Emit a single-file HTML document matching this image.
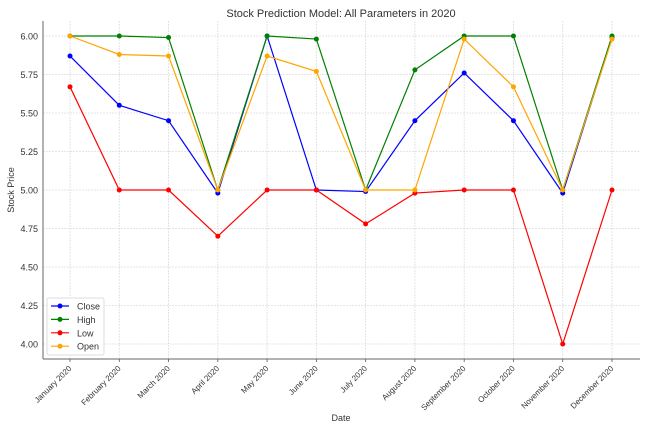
<!DOCTYPE html>
<html><head><meta charset="utf-8"><style>
body{margin:0;background:#fff}
svg{display:block;font-family:"Liberation Sans","DejaVu Sans",sans-serif}
</style></head><body>
<svg id="c" width="657" height="433"></svg>
<script>
const categories=["January 2020","February 2020","March 2020","April 2020","May 2020","June 2020","July 2020","August 2020","September 2020","October 2020","November 2020","December 2020"];
const closeVals=[5.87,5.55,5.45,4.98,6.00,5.00,4.99,5.45,5.76,5.45,4.98,5.99];
const highVals=[6.00,6.00,5.99,5.00,6.00,5.98,5.00,5.78,6.00,6.00,5.00,6.00];
const lowVals=[5.67,5.00,5.00,4.70,5.00,5.00,4.78,4.98,5.00,5.00,4.00,5.00];
const openVals=[6.00,5.88,5.87,5.00,5.87,5.77,5.00,5.00,5.98,5.67,5.00,5.98];
const yTicks=[4.00,4.25,4.50,4.75,5.00,5.25,5.50,5.75,6.00];
const seriesNames=["Close","High","Low","Open"];
const NS="http://www.w3.org/2000/svg";
const svg=document.getElementById('c');
function mk(t,a,p){const e=document.createElementNS(NS,t);for(const k in a)e.setAttribute(k,a[k]);(p||svg).appendChild(e);return e;}
const x=i=>70+i*(612-70)/11;
const y=v=>344-(v-4)*(344-36)/2;
const L=43,R=640,T=21,B=359;
// title
let t=mk('text',{x:341,y:17,'text-anchor':'middle','font-size':11,fill:'#333'});t.textContent="Stock Prediction Model: All Parameters in 2020";


// grid + ticks
yTicks.forEach(v=>{
 const g=mk('line',{x1:L,x2:R,y1:y(v),y2:y(v),stroke:'#ddd','stroke-width':0.8,'stroke-dasharray':'2,1'});
 
 
 const tl=mk('text',{x:38,y:y(v)+3.5,'text-anchor':'end','font-size':9,fill:'#333'});tl.textContent=v.toFixed(2);
 
 
});
categories.forEach((c,i)=>{
 const g=mk('line',{x1:x(i),x2:x(i),y1:T,y2:B,stroke:'#ddd','stroke-width':0.8,'stroke-dasharray':'2,1'});
 
 
 mk('line',{x1:x(i),x2:x(i),y1:B,y2:B+3,stroke:'#555','stroke-width':0.8});
 const tl=mk('text',{x:x(i)+2,y:B+10,'text-anchor':'end','font-size':8,fill:'#333',transform:`rotate(-45 ${x(i)+2} ${B+10})`});tl.textContent=c;
 
 
});
mk('line',{x1:L,x2:L,y1:T,y2:B,stroke:'#666','stroke-width':1});
mk('line',{x1:L,x2:R,y1:B,y2:B,stroke:'#666','stroke-width':1});
let xl=mk('text',{x:341,y:421,'text-anchor':'middle','font-size':9,fill:'#333'});xl.textContent="Date";


let yl=mk('text',{x:14,y:190,'text-anchor':'middle','font-size':9,fill:'#333',transform:'rotate(-90 14 190)'});yl.textContent="Stock Price";


const all=[closeVals,highVals,lowVals,openVals];
const colors=["#0000ff","#008000","#ff0000","#ffa500"];
all.forEach((vals,s)=>{
 const pl=mk('polyline',{points:vals.map((v,i)=>x(i)+','+y(v)).join(' '),fill:'none',stroke:colors[s],'stroke-width':1.2});
 
 
 vals.forEach((v,i)=>{
  const c=mk('circle',{cx:x(i),cy:y(v),r:2.5,fill:colors[s]});
  
  
 });
});
// legend
const lg=mk('g',{});


mk('rect',{x:47,y:298,width:57,height:57,fill:'#fff',stroke:'#ddd',rx:2},lg);
seriesNames.forEach((n,s)=>{
 const yy=306+s*13.4;
 mk('line',{x1:51,x2:69,y1:yy,y2:yy,stroke:colors[s],'stroke-width':1.2},lg);
 mk('circle',{cx:60,cy:yy,r:2.5,fill:colors[s]},lg);
 const tx=mk('text',{x:77,y:yy+3.5,'font-size':9,fill:'#333'},lg);tx.textContent=n;
 
 
});
</script>
</body></html>
